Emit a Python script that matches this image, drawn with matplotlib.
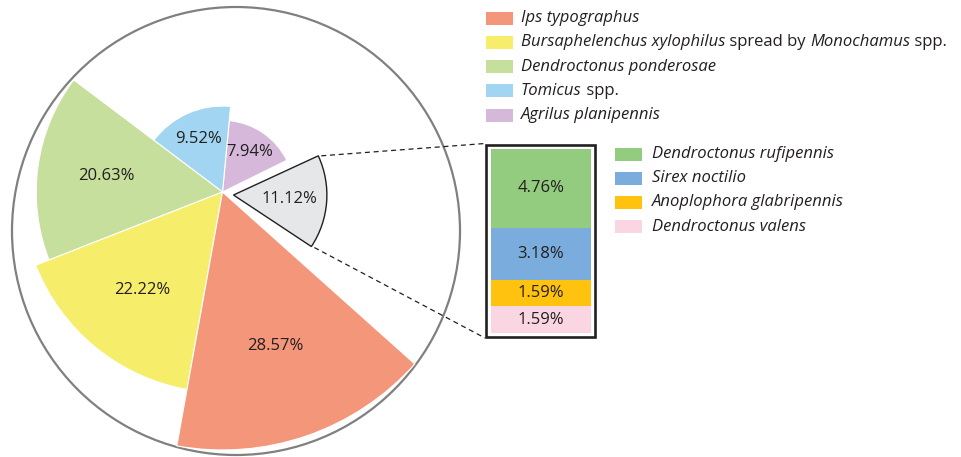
import matplotlib
matplotlib.use("Agg")
import matplotlib.pyplot as plt
from matplotlib.patches import Wedge, Rectangle, Circle
import numpy as np

# main pie (legend order), the last one is the exploded "others" wedge
main_names = [
    [("Ips typographus", "italic")],
    [("Bursaphelenchus xylophilus", "italic"), (" spread by ", "normal"),
     ("Monochamus", "italic"), (" spp.", "normal")],
    [("Dendroctonus ponderosae", "italic")],
    [("Tomicus", "italic"), (" spp.", "normal")],
    [("Agrilus planipennis", "italic")],
]
main_values = [28.57, 22.22, 20.63, 9.52, 7.94]
main_colors = ["#F4967A", "#F6EE6A", "#C6DF9C", "#A1D5F1", "#D5B8DA"]
other_value = 11.12
other_color = "#E6E7E9"

# breakdown of the "others" wedge
sub_names = ["Dendroctonus rufipennis", "Sirex noctilio",
             "Anoplophora glabripennis", "Dendroctonus valens"]
sub_values = [4.76, 3.18, 1.59, 1.59]
sub_colors = ["#93CC7E", "#7AADDE", "#FFC20F", "#F9D6E2"]

txt_color = "#231F20"
plt.rcParams['font.family'] = ['Open Sans', 'DejaVu Sans']

fig = plt.figure(figsize=(9.61, 4.57), dpi=100)
ax = fig.add_axes([0, 0, 1, 1])
ax.set_xlim(0, 961)
ax.set_ylim(0, 457)
ax.axis('off')
renderer = fig.canvas.get_renderer()

# outer circle
ax.add_patch(Circle((236, 226), 224, fill=False, ec="#808080", lw=1.6, zorder=1))

# rose-style wedges: equal angles, radius scaled with value
center = np.array([222.5, 265.0])
r_scale = 9.03
span = 58.4
start = 26.2
for k, i in enumerate(reversed(range(len(main_values)))):
    t1 = start + k * span
    t2 = t1 + span
    r = main_values[i] * r_scale
    ax.add_patch(Wedge(center, r, t1, t2, fc=main_colors[i], ec="white", lw=0.8, zorder=2))
    mid = np.deg2rad((t1 + t2) / 2)
    lr = 0.63 * r if r > 120 else 0.68 * r
    ax.text(center[0] + lr * np.cos(mid), center[1] + lr * np.sin(mid),
            f"{main_values[i]:.2f}%", ha='center', va='center',
            fontsize=12, color=txt_color, zorder=4)

# exploded wedge
oc = center + np.array([11.0, -3.0])
o1, o2 = -33.5, 24.8
orad = other_value * r_scale * 0.93
ax.add_patch(Wedge(oc, orad, o1, o2, fc=other_color, ec="#231F20", lw=1.0, zorder=3))
omid = np.deg2rad((o1 + o2) / 2)
ax.text(oc[0] + 0.6 * orad * np.cos(omid), oc[1] + 0.6 * orad * np.sin(omid),
        f"{other_value:.2f}%", ha='center', va='center', fontsize=12,
        color=txt_color, zorder=4)

# stacked breakdown box
bx0, bx1 = 490.7, 590.7
btop = 308.0
px_per = 183.7 / sum(sub_values)
y = btop
for v, c in zip(sub_values, sub_colors):
    h = v * px_per
    ax.add_patch(Rectangle((bx0, y - h), bx1 - bx0, h, fc=c, ec='none', zorder=2))
    ax.text((bx0 + bx1) / 2, y - h / 2, f"{v:.2f}%", ha='center', va='center',
            fontsize=12, color=txt_color, zorder=4)
    y -= h
ax.add_patch(Rectangle((486.3, 120.0), 108.4, 192.4, fill=False, ec="#231F20",
                       lw=1.9, zorder=3))

# connector lines
top_pt = oc + orad * np.array([np.cos(np.deg2rad(o2)), np.sin(np.deg2rad(o2))])
bot_pt = oc + orad * np.array([np.cos(np.deg2rad(o1)), np.sin(np.deg2rad(o1))])
ax.plot([top_pt[0] + 3, 485], [top_pt[1], 313.5], ls=(0, (4, 3)), color="#231F20", lw=0.9, zorder=1)
ax.plot([bot_pt[0] + 3, 485], [bot_pt[1] - 1, 119.0], ls=(0, (4, 3)), color="#231F20", lw=0.9, zorder=1)


def rich_text(x, y, parts):
    for s, st in parts:
        t = ax.text(x, y, s, style=st, ha='left', va='center', fontsize=12,
                    color=txt_color, zorder=4)
        x += t.get_window_extent(renderer).width


# legends
for i, (parts, c) in enumerate(zip(main_names, main_colors)):
    yc = 457 - (18.3 + i * 24.2)
    ax.add_patch(Rectangle((486, yc - 6.5), 26.7, 13, fc=c, ec='none'))
    rich_text(521, yc, parts)

for i, (name, c) in enumerate(zip(sub_names, sub_colors)):
    yc = 457 - (154.3 + i * 24.1)
    ax.add_patch(Rectangle((615, yc - 6.5), 26.7, 13, fc=c, ec='none'))
    rich_text(651.7, yc, [(name, "italic")])

fig.savefig("out.png", dpi=100)
